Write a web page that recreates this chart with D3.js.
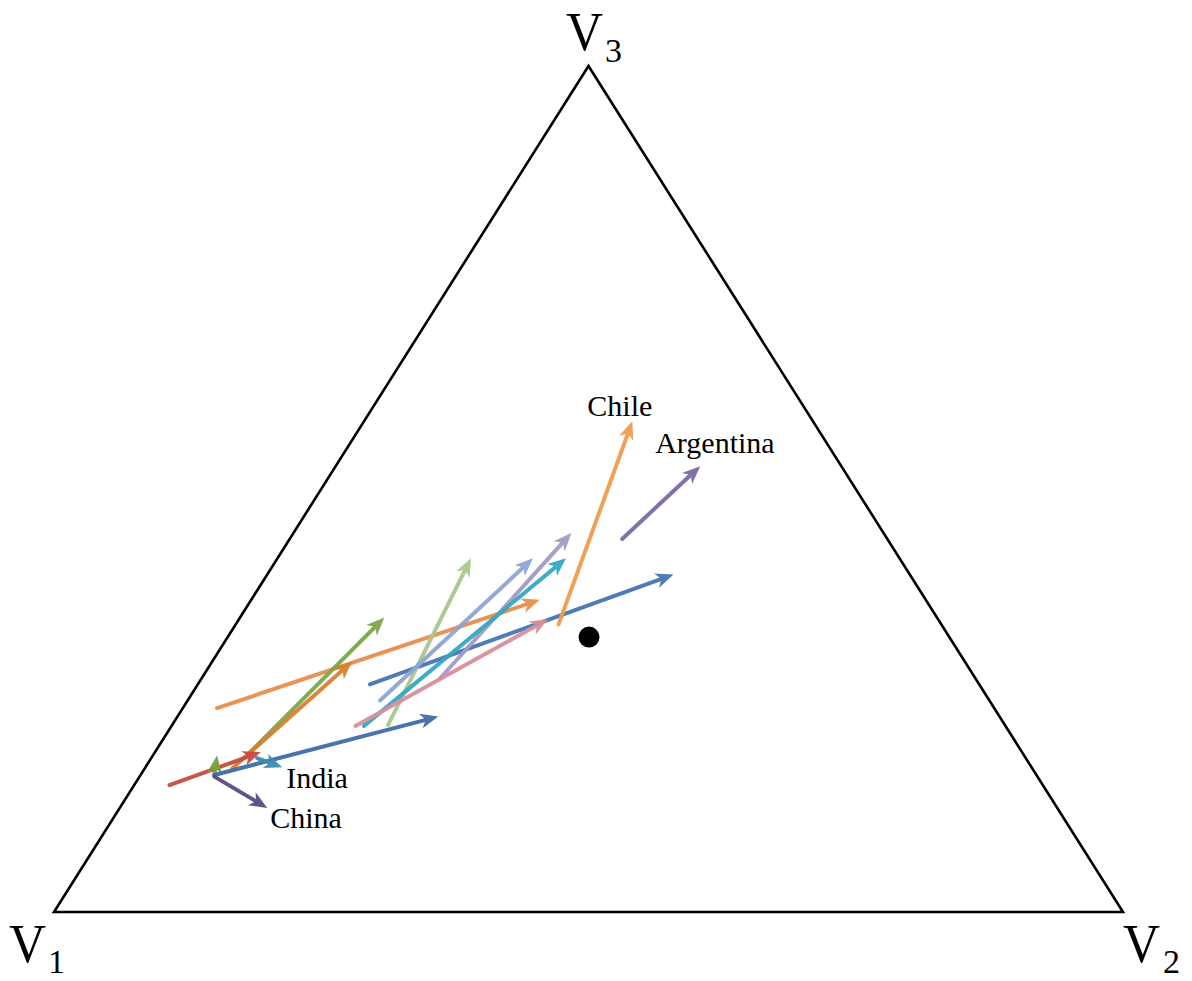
<!DOCTYPE html>
<html>
<head>
<meta charset="utf-8">
<script src="https://cdn.jsdelivr.net/npm/d3@7"></script>
<style>
  html, body { margin: 0; padding: 0; background: #fff; }
  svg { display: block; }
  text { font-family: "Liberation Serif", "Times New Roman", serif; fill: #000; }
</style>
</head>
<body>
<svg id="chart" width="1192" height="981"></svg>
<script>
// Ternary shares (V1, V2, V3) of arrow start and end points
const arrowNames = ["a1","a2","a3","a4","a5","a6","India","China","a9","a10","a11","a12","a13","a14","Chile","Argentina"];
const arrowStart = [
  [0.727, 0.032, 0.241],
  [0.722, 0.089, 0.189],
  [0.748, 0.082, 0.170],
  [0.817, 0.033, 0.150],
  [0.769, 0.069, 0.162],
  [0.769, 0.069, 0.162],
  [0.719, 0.099, 0.182],
  [0.770, 0.070, 0.160],
  [0.570, 0.161, 0.269],
  [0.577, 0.202, 0.221],
  [0.570, 0.180, 0.250],
  [0.501, 0.223, 0.276],
  [0.600, 0.180, 0.220],
  [0.608, 0.172, 0.220],
  [0.358, 0.302, 0.340],
  [0.248, 0.311, 0.441]
];
const arrowEnd = [
  [0.361, 0.270, 0.369],
  [0.517, 0.135, 0.348],
  [0.573, 0.131, 0.296],
  [0.712, 0.099, 0.189],
  [0.755, 0.060, 0.185],
  [0.525, 0.244, 0.231],
  [0.701, 0.128, 0.171],
  [0.739, 0.138, 0.123],
  [0.221, 0.380, 0.399],
  [0.401, 0.181, 0.418],
  [0.343, 0.239, 0.418],
  [0.292, 0.260, 0.448],
  [0.312, 0.270, 0.418],
  [0.365, 0.289, 0.346],
  [0.169, 0.251, 0.580],
  [0.132, 0.341, 0.527]
];
const arrowColors = ["#E88F4C","#7FA64B","#D8812E","#C94A3E","#76A03F","#3F6CA8","#3A8DAF","#5B4988","#4874B3","#A9C98C","#8FA5D3","#A39BC6","#35A8C3","#D98F9D","#F09C4E","#7C69A5"];
const labels = [
  {text: "India", pos: [0.700, 0.128, 0.171], dx: 4, dy: 21},
  {text: "China", pos: [0.739, 0.138, 0.123], dx: 3, dy: 20},
  {text: "Chile", pos: [0.169, 0.251, 0.580], dx: -45, dy: -5},
  {text: "Argentina", pos: [0.132, 0.341, 0.527], dx: -45, dy: -13}
];
const centerPoint = [0.337, 0.338, 0.325];
const vertexNames = ["V", "V", "V"];
const vertexSubs = ["1", "2", "3"];

const svg = d3.select("#chart");
// b + c/2 along base, c up the height
const xs = d3.scaleLinear().domain([0, 1]).range([54, 1123]);
const ys = d3.scaleLinear().domain([0, 1]).range([912, 66]);
const proj = p => [xs(p[1] + p[2] / 2), ys(p[2])];

// Triangle
const corners = [[1,0,0],[0,1,0],[0,0,1]].map(proj);
svg.append("path")
  .attr("d", d3.line()(corners) + "Z")
  .attr("fill", "none")
  .attr("stroke", "#000")
  .attr("stroke-width", 2.6)
  .attr("stroke-linejoin", "miter");

// Markers
const defs = svg.append("defs");
arrowColors.forEach((c, i) => {
  defs.append("marker")
    .attr("id", "m" + i)
    .attr("viewBox", "-12 -10 24 20")
    .attr("markerUnits", "userSpaceOnUse")
    .attr("markerWidth", 24).attr("markerHeight", 20)
    .attr("refX", 0).attr("refY", 0)
    .attr("orient", "auto")
    .append("path")
    .attr("d", "M-9,-7.5 L9,0 L-9,7.5 L-4,0 Z")
    .attr("fill", c);
});

// Arrows
arrowStart.forEach((s, i) => {
  const p0 = proj(s), p1 = proj(arrowEnd[i]);
  const dx = p1[0] - p0[0], dy = p1[1] - p0[1];
  const len = Math.hypot(dx, dy);
  const k = Math.max(0, (len - 9) / len);
  svg.append("line")
    .attr("x1", p0[0]).attr("y1", p0[1])
    .attr("x2", p0[0] + dx * k).attr("y2", p0[1] + dy * k)
    .attr("stroke", arrowColors[i])
    .attr("stroke-width", 4)
    .attr("stroke-linecap", "round")
    .attr("opacity", 0.95)
    .attr("marker-end", "url(#m" + i + ")");
});

// Centre dot
const cp = proj(centerPoint);
svg.append("circle").attr("cx", cp[0]).attr("cy", cp[1]).attr("r", 10.5).attr("fill", "#000");

// Labels
labels.forEach(l => {
  const p = proj(l.pos);
  svg.append("text")
    .attr("x", p[0] + l.dx).attr("y", p[1] + l.dy)
    .attr("font-size", 30)
    .text(l.text);
});

// Vertex labels
const vPos = [
  {x: 9, y: 962, sx: 48, sy: 973},
  {x: 1123, y: 962, sx: 1163, sy: 973},
  {x: 566, y: 50, sx: 605, sy: 62}
];
vPos.forEach((v, i) => {
  svg.append("text").attr("x", v.x).attr("y", v.y).attr("font-size", 55)
    .attr("textLength", 37).attr("lengthAdjust", "spacingAndGlyphs")
    .text(vertexNames[i]);
  svg.append("text").attr("x", v.sx).attr("y", v.sy).attr("font-size", 34)
    .text(vertexSubs[i]);
});
</script>
</body>
</html>
